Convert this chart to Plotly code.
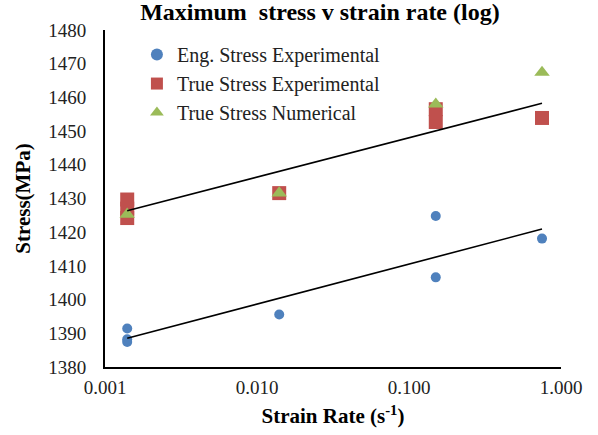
import numpy as np
import plotly.graph_objects as go

# Data
eng_rate = [0.0014, 0.0014, 0.0014, 0.014, 0.15, 0.15, 0.75]
eng_stress = [1391.4, 1388.2, 1387.4, 1395.6, 1424.8, 1406.6, 1418.1]

true_exp_rate = [0.0014, 0.0014, 0.0014, 0.014, 0.15, 0.15, 0.75]
true_exp_stress = [1429.7, 1427.0, 1424.2, 1431.6, 1456.5, 1452.7, 1453.9]

true_num_rate = [0.0014, 0.014, 0.15, 0.75]
true_num_stress = [1425.3, 1431.6, 1458.0, 1467.4]

x_tickvals = [0.001, 0.01, 0.1, 1.0]
x_ticktext = ["0.001", "0.010", "0.100", "1.000"]

FONT = "Times New Roman, Liberation Serif, serif"


def log_trend(xs, ys):
    lx = np.log10(np.array(xs))
    b, a = np.polyfit(lx, np.array(ys), 1)
    xe = np.array([min(xs), max(xs)])
    return xe, a + b * np.log10(xe)


fig = go.Figure()

fig.add_trace(go.Scatter(
    x=eng_rate, y=eng_stress, mode="markers", name="Eng. Stress Experimental",
    marker=dict(symbol="circle", size=10, color="#4F81BD")))
fig.add_trace(go.Scatter(
    x=true_exp_rate, y=true_exp_stress, mode="markers", name="True Stress Experimental",
    marker=dict(symbol="square", size=14, color="#C0504D")))
fig.add_trace(go.Scatter(
    x=true_num_rate, y=true_num_stress, mode="markers", name="True Stress Numerical",
    marker=dict(symbol="triangle-up", size=13.5, color="#9BBB59")))

for xs, ys in [(eng_rate, eng_stress), (true_exp_rate, true_exp_stress)]:
    tx, ty = log_trend(xs, ys)
    fig.add_trace(go.Scatter(x=tx, y=ty, mode="lines", showlegend=False,
                             line=dict(color="black", width=1.6), hoverinfo="skip"))

fig.update_layout(
    width=598, height=435,
    margin=dict(l=105, r=37, t=30, b=68),
    paper_bgcolor="white", plot_bgcolor="white",
    font=dict(family=FONT, size=19, color="#222"),
    title=dict(text="<b>Maximum  stress v strain rate (log)</b>", x=0.535, xanchor="center",
               y=0.992, yanchor="top", font=dict(family=FONT, size=24, color="black")),
    legend=dict(x=0.07, y=0.985, xanchor="left", yanchor="top", bgcolor="rgba(0,0,0,0)",
                font=dict(family=FONT, size=20, color="#222"), tracegroupgap=0,
                itemsizing="constant"),
    showlegend=True,
)

fig.update_xaxes(
    type="log", range=[-3, 0], tickvals=x_tickvals, ticktext=x_ticktext,
    showgrid=False, zeroline=False, showline=True, linecolor="black", linewidth=2,
    ticks="outside", ticklen=2, tickcolor="rgba(0,0,0,0)",
    title=dict(text="<b>Strain Rate (s<sup>-1</sup>)</b>", standoff=12,
               font=dict(family=FONT, size=21, color="black")),
)
fig.update_yaxes(
    range=[1380, 1480], dtick=10, tick0=1380,
    showgrid=False, zeroline=False, showline=True, linecolor="black", linewidth=2,
    ticks="outside", ticklen=13, tickcolor="rgba(0,0,0,0)",
    title=dict(text="<b>Stress(MPa)</b>", standoff=12,
               font=dict(family=FONT, size=21, color="black")),
)

fig.write_html("out.html", config={"displayModeBar": False})

# remove the browser's default body margin so the figure sits at the page origin
with open("out.html", "r", encoding="utf-8") as f:
    html = f.read()
html = html.replace("<body>", '<body style="margin:0;padding:0">', 1)
with open("out.html", "w", encoding="utf-8") as f:
    f.write(html)
